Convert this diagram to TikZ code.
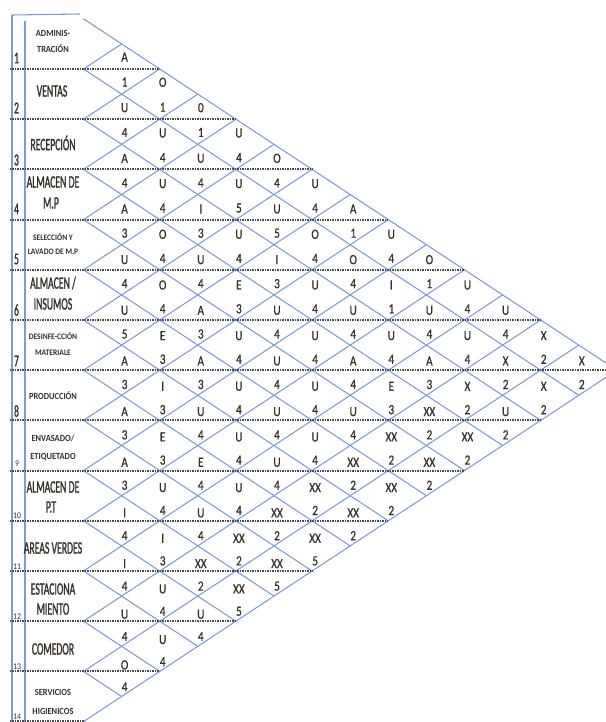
\documentclass[tikz,border=0pt]{standalone}
\usepackage{fontspec}
\setmainfont{Carlito}
\newfontfamily\cellfont[FakeStretch=0.8,FakeBold=0.8]{Carlito}
\newfontfamily\bigfont[FakeStretch=0.56,FakeBold=1.2]{Carlito}
\newfontfamily\smallfont[FakeStretch=0.9]{Carlito}
\definecolor{gridblue}{RGB}{125,155,215}
\definecolor{dashgray}{RGB}{75,75,75}
\definecolor{txt}{RGB}{55,48,40}
\tikzset{
  gridline/.style={draw=gridblue, line width=0.8pt},
  rowsep/.style={draw=dashgray, line width=1.5pt, dash pattern=on 0.8pt off 0.45pt},
  cell/.style={font=\cellfont\fontsize{10.5}{12}\selectfont, text=txt, inner sep=0pt},
  biglabel/.style={font=\bigfont\fontsize{13}{15}\selectfont, text=txt, inner sep=0pt},
  smalllabel/.style={font=\smallfont\bfseries\fontsize{7}{8}\selectfont, text=txt, inner sep=0pt},
  tinylabel/.style={font=\smallfont\bfseries\fontsize{6.3}{7}\selectfont, text=txt, inner sep=0pt},
  bignum/.style={font=\bigfont\fontsize{12.5}{14}\selectfont, text=txt, inner sep=0pt},
  smallnum/.style={font=\smallfont\fontsize{6.5}{7}\selectfont, text=txt, inner sep=0pt},
}
\newcommand\relcell[4]{%
  \pgfmathsetmacro\rcx{83.5+(#2-#1)*38.1+3}%
  \pgfmathsetmacro\rcy{18.8+(#1+#2-1)*25.1}%
  \pgfmathsetmacro\rct{(\rcy-68)/603}%
  \node[cell] (u#1x#2) at (\rcx,{\rcy-12+5.5*\rct}) {#3};%
  \node[cell] (l#1x#2) at (\rcx,{\rcy+13+2.5*\rct}) {#4};%
}
\begin{document}
\begin{tikzpicture}[x=0.75pt,y=-0.75pt]
\useasboundingbox (0,0) rectangle (606,722);
\clip (0,0) rectangle (606,722);
% diamond grid
\foreach \m in {0,...,13}{
  \pgfmathsetmacro\len{14-\m}
  \draw[gridline] (83.5,{18.8+\m*50.2}) -- ++({\len*38.1},{\len*25.1});
}
\foreach \m in {1,...,14}{
  \draw[gridline] (83.5,{18.8+\m*50.2}) -- ++({\m*38.1},{-\m*25.1});
}
% left frame
\draw[gridline] (12,15) -- (12,722);
\draw[gridline] (25,21) -- (25,722);
\draw[gridline] (12,15) -- (80,14);
% row separators
\foreach \m in {1,...,13}{
  \pgfmathsetmacro\mm{min(\m,14-\m)}
  \draw[rowsep] (10,{18.8+\m*50.2}) -- ({83.5+2*\mm*38.1},{18.8+\m*50.2});
}
\draw[rowsep] (10,721) -- (83.5,721);
% row labels
\node[smalllabel] (r1a) at (53,33) {ADMINIS-};
\node[smalllabel] (r1b) at (53,49) {TRACIÓN};
\node[biglabel] (r2) at (52,91) {VENTAS};
\node[biglabel] (r3) at (53,143) {RECEPCIÓN};
\node[biglabel] (r4a) at (53,182) {ALMACEN DE};
\node[biglabel] (r4b) at (51,203) {M.P};
\node[tinylabel] (r5a) at (53,237) {SELECCIÓN Y};
\node[tinylabel] (r5b) at (53,252) {LAVADO DE M.P};
\node[biglabel] (r6a) at (53,283) {ALMACEN /};
\node[biglabel] (r6b) at (53,304) {INSUMOS};
\node[tinylabel] (r7a) at (53,336) {DESINFE-CCIÓN};
\node[tinylabel] (r7b) at (53,353) {MATERIALE};
\node[smalllabel] (r8) at (53,396) {PRODUCCIÓN};
\node[smalllabel] (r9a) at (53,438) {ENVASADO/};
\node[smalllabel] (r9b) at (53,457) {ETIQUETADO};
\node[biglabel] (r10a) at (53,487) {ALMACEN DE};
\node[biglabel] (r10b) at (51,507) {P.T};
\node[biglabel] (r11) at (53,548) {AREAS VERDES};
\node[biglabel] (r12a) at (53,589) {ESTACIONA};
\node[biglabel] (r12b) at (53,609) {MIENTO};
\node[biglabel] (r13) at (53,649) {COMEDOR};
\node[smalllabel] (r14a) at (53,692) {SERVICIOS};
\node[smalllabel] (r14b) at (53,711) {HIGIENICOS};
% row numbers
\foreach \n/\yy in {1/58,2/108,3/160,4/209,5/259,6/310,7/361,8/411}{
  \node[bignum] (n\n) at (16.5,\yy) {\n};
}
\foreach \n/\yy in {9/464,10/516,11/567,12/617,13/667,14/717}{
  \node[smallnum] (n\n) at (17,\yy) {\n};
}
% relationship cells
\foreach \ri/\rj/\rl/\rn in {
 1/2/A/1, 1/3/O/1, 1/4/0/1, 1/5/U/4, 1/6/O/4, 1/7/U/4, 1/8/A/1, 1/9/U/4, 1/10/O/1, 1/11/U/4, 1/12/U/4, 1/13/X/2, 1/14/X/2,
 2/3/U/4, 2/4/U/4, 2/5/U/4, 2/6/U/5, 2/7/U/5, 2/8/O/4, 2/9/O/4, 2/10/I/1, 2/11/U/4, 2/12/U/4, 2/13/X/2, 2/14/X/2,
 3/4/A/4, 3/5/U/4, 3/6/I/3, 3/7/U/4, 3/8/I/3, 3/9/U/4, 3/10/U/4, 3/11/U/4, 3/12/A/3, 3/13/X/2, 3/14/U/2,
 4/5/A/3, 4/6/O/4, 4/7/U/4, 4/8/E/3, 4/9/U/4, 4/10/U/4, 4/11/A/4, 4/12/E/3, 4/13/XX/2, 4/14/XX/2,
 5/6/U/4, 5/7/O/4, 5/8/A/3, 5/9/U/4, 5/10/U/4, 5/11/U/4, 5/12/U/4, 5/13/XX/2, 5/14/XX/2,
 6/7/U/5, 6/8/E/3, 6/9/A/3, 6/10/U/4, 6/11/U/4, 6/12/U/4, 6/13/XX/2, 6/14/XX/2,
 7/8/A/3, 7/9/I/3, 7/10/U/4, 7/11/U/4, 7/12/U/4, 7/13/XX/2, 7/14/XX/2,
 8/9/A/3, 8/10/E/3, 8/11/E/4, 8/12/U/4, 8/13/XX/2, 8/14/XX/5,
 9/10/A/3, 9/11/U/4, 9/12/U/4, 9/13/XX/2, 9/14/XX/5,
 10/11/I/4, 10/12/I/3, 10/13/XX/2, 10/14/XX/5,
 11/12/I/4, 11/13/U/4, 11/14/U/4,
 12/13/U/4, 12/14/U/4,
 13/14/O/4}{
  \relcell{\ri}{\rj}{\rl}{\rn}
}
\end{tikzpicture}
\end{document}
